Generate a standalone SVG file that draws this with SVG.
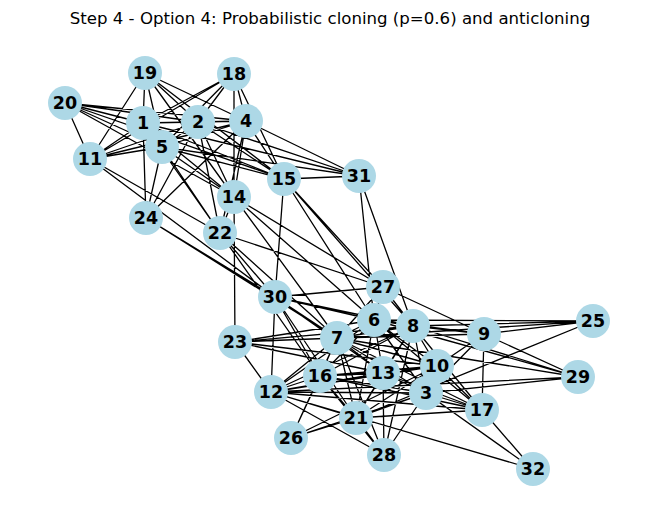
<svg xmlns="http://www.w3.org/2000/svg" width="660" height="522" viewBox="0 0 660 522">
<style>
.e{stroke:#000;stroke-width:1.3;fill:none}
.n circle{fill:#add8e6}
.n text{font-family:"DejaVu Sans",sans-serif;font-weight:bold;font-size:17.5px;text-anchor:middle;dominant-baseline:central;fill:#000}
.t{font-family:"DejaVu Sans",sans-serif;font-size:16.6px;text-anchor:middle;fill:#000}
</style>
<rect width="660" height="522" fill="#fff"/>
<text class="t" x="330" y="24">Step 4 - Option 4: Probabilistic cloning (p=0.6) and anticloning</text>
<g id="edges" class="e">
<path d="M65 103L90 159M65 103L143 123M65 103L198 122M65 103L246 121M65 103L162 147M65 103L234 197M65 103L284 179
M145 73L90 159M145 73L143 123M145 73L162 147M145 73L198 122M145 73L246 121M145 73L284 179M145 73L234 197
M234 74L143 123M234 74L90 159M234 74L198 122M234 74L162 147M234 74L234 197M234 74L246 121M234 74L284 179
M143 123L198 122M143 123L246 121M143 123L90 159M143 123L162 147M143 123L146 218M143 123L284 179M143 123L234 197M143 123L359 176M143 123L220 233
M198 122L246 121M198 122L90 159M198 122L162 147M198 122L234 197M198 122L284 179M198 122L359 176M198 122L220 233M198 122L146 218
M246 121L90 159M246 121L162 147M246 121L234 197M246 121L220 233M246 121L146 218M246 121L284 179M246 121L359 176
M162 147L90 159M162 147L146 218M162 147L220 233M162 147L234 197M162 147L284 179M162 147L359 176
M90 159L220 233M90 159L275 297M234 197L220 233
M284 179L359 176M284 179L275 297M284 179L383 287M284 179L374 320M284 179L413 326
M359 176L374 320M359 176L413 326
M146 218L275 297M146 218L337 338
M220 233L383 287M220 233L337 338M220 233L320 376M220 233L275 297
M234 197L383 287M234 197L374 320M234 197L337 338M234 197L235 342
M275 297L383 287M275 297L374 320M275 297L413 326M275 297L337 338M275 297L271 392M275 297L320 376M275 297L383 373M275 297L356 418
M235 342L337 338M235 342L374 320M235 342L413 326M235 342L383 373M235 342L271 392M235 342L437 366
M337 338L374 320M337 338L413 326M337 338L484 334M337 338L437 366M337 338L383 373M337 338L426 393M337 338L271 392M337 338L320 376M337 338L356 418M337 338L482 410M337 338L383 287M337 338L291 438M337 338L384 455M337 338L578 377M337 338L593 321
M374 320L383 287M374 320L413 326M374 320L484 334M374 320L593 321M374 320L437 366M374 320L383 373M374 320L426 393M374 320L271 392M374 320L356 418M374 320L320 376M374 320L482 410
M413 326L383 287M413 326L484 334M413 326L593 321M413 326L578 377M413 326L437 366M413 326L383 373M413 326L426 393M413 326L482 410M413 326L271 392M413 326L320 376M413 326L356 418M413 326L384 455
M484 334L593 321M484 334L482 410M484 334L437 366M484 334L426 393M484 334L578 377M484 334L383 287
M593 321L356 418
M578 377L374 320M578 377L426 393M578 377L271 392
M437 366L426 393M437 366L383 373M437 366L482 410M437 366L356 418M437 366L271 392M437 366L320 376M437 366L291 438
M383 373L426 393M383 373L271 392M383 373L356 418M383 373L384 455M383 373L320 376M383 373L482 410
M426 393L482 410M426 393L356 418M426 393L271 392M426 393L384 455M426 393L291 438M426 393L533 469M426 393L320 376
M482 410L533 469M482 410L271 392M482 410L320 376M482 410L356 418
M271 392L356 418M271 392L384 455M271 392L533 469M271 392L320 376
M356 418L291 438M356 418L384 455M320 376L291 438M320 376L384 455M320 376L356 418"/>
</g>
<g id="n19" class="n"><circle cx="145" cy="73" r="17"/><text x="145" y="73">19</text></g>
<g id="n18" class="n"><circle cx="234" cy="74" r="17"/><text x="234" y="74">18</text></g>
<g id="n20" class="n"><circle cx="65" cy="103" r="17"/><text x="65" y="103">20</text></g>
<g id="n1" class="n"><circle cx="143" cy="123" r="17"/><text x="143" y="123">1</text></g>
<g id="n2" class="n"><circle cx="198" cy="122" r="17"/><text x="198" y="122">2</text></g>
<g id="n4" class="n"><circle cx="246" cy="121" r="17"/><text x="246" y="121">4</text></g>
<g id="n5" class="n"><circle cx="162" cy="147" r="17"/><text x="162" y="147">5</text></g>
<g id="n11" class="n"><circle cx="90" cy="159" r="17"/><text x="90" y="159">11</text></g>
<g id="n15" class="n"><circle cx="284" cy="179" r="17"/><text x="284" y="179">15</text></g>
<g id="n31" class="n"><circle cx="359" cy="176" r="17"/><text x="359" y="176">31</text></g>
<g id="n14" class="n"><circle cx="234" cy="197" r="17"/><text x="234" y="197">14</text></g>
<g id="n24" class="n"><circle cx="146" cy="218" r="17"/><text x="146" y="218">24</text></g>
<g id="n22" class="n"><circle cx="220" cy="233" r="17"/><text x="220" y="233">22</text></g>
<g id="n27" class="n"><circle cx="383" cy="287" r="17"/><text x="383" y="287">27</text></g>
<g id="n30" class="n"><circle cx="275" cy="297" r="17"/><text x="275" y="297">30</text></g>
<g id="n6" class="n"><circle cx="374" cy="320" r="17"/><text x="374" y="320">6</text></g>
<g id="n8" class="n"><circle cx="413" cy="326" r="17"/><text x="413" y="326">8</text></g>
<g id="n9" class="n"><circle cx="484" cy="334" r="17"/><text x="484" y="334">9</text></g>
<g id="n25" class="n"><circle cx="593" cy="321" r="17"/><text x="593" y="321">25</text></g>
<g id="n7" class="n"><circle cx="337" cy="338" r="17"/><text x="337" y="338">7</text></g>
<g id="n23" class="n"><circle cx="235" cy="342" r="17"/><text x="235" y="342">23</text></g>
<g id="n10" class="n"><circle cx="437" cy="366" r="17"/><text x="437" y="366">10</text></g>
<g id="n13" class="n"><circle cx="383" cy="373" r="17"/><text x="383" y="373">13</text></g>
<g id="n16" class="n"><circle cx="320" cy="376" r="17"/><text x="320" y="376">16</text></g>
<g id="n29" class="n"><circle cx="578" cy="377" r="17"/><text x="578" y="377">29</text></g>
<g id="n3" class="n"><circle cx="426" cy="393" r="17"/><text x="426" y="393">3</text></g>
<g id="n12" class="n"><circle cx="271" cy="392" r="17"/><text x="271" y="392">12</text></g>
<g id="n17" class="n"><circle cx="482" cy="410" r="17"/><text x="482" y="410">17</text></g>
<g id="n21" class="n"><circle cx="356" cy="418" r="17"/><text x="356" y="418">21</text></g>
<g id="n26" class="n"><circle cx="291" cy="438" r="17"/><text x="291" y="438">26</text></g>
<g id="n28" class="n"><circle cx="384" cy="455" r="17"/><text x="384" y="455">28</text></g>
<g id="n32" class="n"><circle cx="533" cy="469" r="17"/><text x="533" y="469">32</text></g>
</svg>
